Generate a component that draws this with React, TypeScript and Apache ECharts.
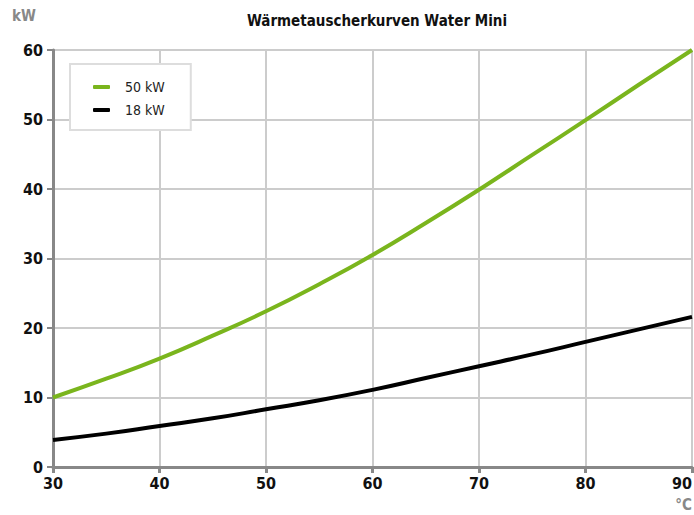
import React, { useEffect, useRef } from "react";
import * as echarts from "echarts";

const temps = [30, 35, 40, 45, 50, 55, 60, 65, 70, 75, 80, 85, 90];
const kw50 = [10, 12.7, 15.6, 18.9, 22.4, 26.3, 30.5, 35.1, 39.9, 44.9, 49.9, 55, 60];
const kw18 = [3.9, 4.8, 5.9, 7.0, 8.3, 9.6, 11.1, 12.8, 14.5, 16.2, 18, 19.8, 21.6];
const seriesNames = ["50 kW", "18 kW"];
const title = "Wärmetauscherkurven Water Mini";

const FONT = "'DejaVu Sans Condensed', 'Noto Sans', sans-serif";

export default function App() {
  const ref = useRef<HTMLDivElement>(null);
  useEffect(() => {
    const chart = echarts.init(ref.current!, null, { renderer: "svg" });
    chart.setOption({
      animation: false,
      backgroundColor: "#fff",
      title: {
        text: title,
        left: 372,
        textAlign: "center",
        top: 8,
        textStyle: { fontFamily: FONT, fontWeight: "bold", fontSize: 15, color: "#111" },
      },
      legend: {
        orient: "vertical",
        left: 70,
        top: 64,
        padding: [15, 26, 12, 23],
        itemGap: 7,
        itemWidth: 17,
        itemHeight: 4,
        icon: "roundRect",
        backgroundColor: "#fff",
        borderColor: "#ddd",
        borderWidth: 2,
        textStyle: { fontFamily: FONT, fontSize: 14, color: "#222", lineHeight: 16, padding: [0, 0, 0, 10] },
        data: seriesNames,
      },
      grid: { left: 53, right: 2, top: 50, bottom: 48, containLabel: false, outerBoundsMode: "none" },
      xAxis: {
        type: "value",
        min: 30,
        max: 90,
        interval: 10,
        axisLine: { lineStyle: { color: "#888", width: 3 } },
        axisTick: { show: true, length: 6, lineStyle: { color: "#888", width: 3 } },
        axisLabel: {
          fontFamily: FONT,
          fontWeight: "bold",
          fontSize: 16,
          color: "#111",
          margin: 8,
          alignMaxLabel: "right",
        },
        splitLine: { show: true, lineStyle: { color: "#ccc", width: 2 } },
      },
      yAxis: {
        type: "value",
        min: 0,
        max: 60,
        interval: 10,
        axisLine: { show: true, lineStyle: { color: "#888", width: 3 } },
        axisTick: { show: true, length: 6, lineStyle: { color: "#888", width: 2 } },
        axisLabel: { fontFamily: FONT, fontWeight: "bold", fontSize: 16, color: "#111", margin: 10 },
        splitLine: { show: true, lineStyle: { color: "#ccc", width: 2 } },
      },
      graphic: [
        { type: "text", left: 12, top: 8, style: { text: "kW", fontFamily: FONT, fontWeight: "bold", fontSize: 15, fill: "#888" } },
        { type: "text", right: 2, top: 497, style: { text: "°C", fontFamily: FONT, fontWeight: "bold", fontSize: 15, fill: "#888" } },
      ],
      series: [
        {
          name: seriesNames[0],
          type: "line",
          smooth: true,
          showSymbol: false,
          symbol: "none",
          data: temps.map((t, i) => [t, kw50[i]]),
          lineStyle: { color: "#7ab51d", width: 4 },
          itemStyle: { color: "#7ab51d" },
          z: 3,
        },
        {
          name: seriesNames[1],
          type: "line",
          smooth: true,
          showSymbol: false,
          symbol: "none",
          data: temps.map((t, i) => [t, kw18[i]]),
          lineStyle: { color: "#000", width: 4 },
          itemStyle: { color: "#000" },
          z: 3,
        },
      ],
    });
    return () => chart.dispose();
  }, []);
  return <div ref={ref} style={{ width: 694, height: 515, position: "absolute", left: 0, top: 0 }} />;
}
